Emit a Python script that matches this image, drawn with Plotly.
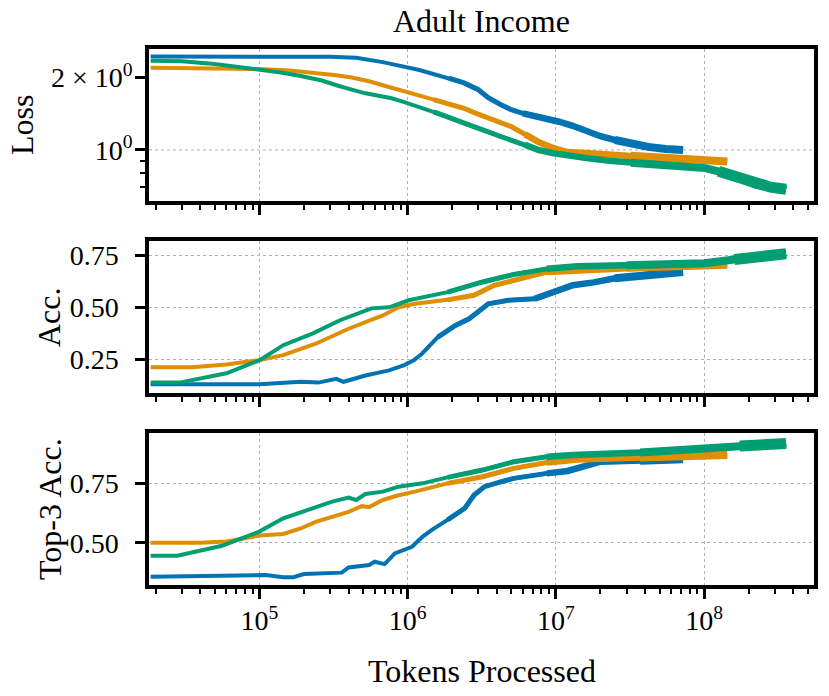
import plotly.graph_objects as go
from plotly.subplots import make_subplots

# colours of the three runs (seaborn "colorblind")
BLUE = "#0173b2"
ORANGE = "#de8f05"
GREEN = "#029e73"

# ---- Loss ----
blue_loss_x = [1.85e4, 1e5, 2e5, 3e5, 4.5e5, 5.5e5, 6.8e5, 8e5, 9.5e5, 1.2e6, 1.45e6, 1.9e6,
               2.4e6, 3e6, 3.5e6, 4.2e6, 5e6, 6e6, 7.2e6, 8.7e6, 1.05e7, 1.3e7, 1.6e7, 2e7,
               2.5e7, 3.2e7, 4.2e7, 5.5e7, 7.2e7]
blue_loss = [2.45, 2.45, 2.45, 2.44, 2.42, 2.38, 2.32, 2.27, 2.22, 2.15, 2.08, 1.99,
             1.90, 1.78, 1.65, 1.55, 1.47, 1.42, 1.39, 1.35, 1.31, 1.26, 1.20, 1.14,
             1.10, 1.06, 1.03, 1.01, 1.00]

orange_loss_x = [1.85e4, 5e4, 1e5, 1.6e5, 2.2e5, 3.2e5, 4.2e5, 5.5e5, 7e5, 9.5e5, 1.2e6, 1.5e6,
                 1.9e6, 2.4e6, 2.9e6, 3.5e6, 4.2e6, 5e6, 6.2e6, 7.6e6, 9.5e6, 1.2e7, 1.6e7,
                 2.2e7, 3.2e7, 4.8e7, 6.8e7, 1e8, 1.43e8]
orange_loss = [2.20, 2.19, 2.17, 2.14, 2.10, 2.05, 2.00, 1.93, 1.85, 1.76, 1.69, 1.62,
               1.55, 1.49, 1.42, 1.36, 1.30, 1.25, 1.16, 1.08, 1.02, 0.98, 0.97,
               0.955, 0.945, 0.93, 0.915, 0.905, 0.895]

green_loss_x = [1.85e4, 3e4, 5e4, 7e4, 1e5, 1.4e5, 1.9e5, 2.6e5, 3.4e5, 3.8e5, 4.5e5, 5.2e5,
                6.5e5, 7.8e5, 9.5e5, 1.2e6, 1.5e6, 1.9e6, 2.4e6, 2.9e6, 3.5e6, 4.2e6, 5e6,
                6.2e6, 7.6e6, 9.5e6, 1.2e7, 1.7e7, 2.4e7, 3.2e7, 4.8e7, 6.8e7, 1.02e8,
                1.25e8, 1.48e8, 1.85e8, 2.24e8, 2.8e8, 3.57e8]
green_loss = [2.35, 2.34, 2.28, 2.22, 2.17, 2.10, 2.03, 1.95, 1.85, 1.81, 1.76, 1.72,
              1.68, 1.64, 1.58, 1.51, 1.44, 1.37, 1.29, 1.24, 1.19, 1.14, 1.10,
              1.05, 1.00, 0.97, 0.948, 0.92, 0.90, 0.885, 0.87, 0.858, 0.84,
              0.815, 0.79, 0.75, 0.715, 0.70, 0.686]

# ---- Accuracy ----
blue_acc_x = [1.85e4, 1e5, 1.9e5, 2.5e5, 3.3e5, 3.7e5, 5.2e5, 7.5e5, 9.5e5, 1.1e6, 1.25e6,
              1.6e6, 2.1e6, 2.6e6, 3.2e6, 3.5e6, 4.8e6, 7.2e6, 9.8e6, 1.3e7, 1.8e7, 2.5e7,
              3.5e7, 4.5e7, 7.2e7]
blue_acc = [0.13, 0.13, 0.142, 0.138, 0.156, 0.142, 0.172, 0.197, 0.222, 0.245, 0.277,
            0.357, 0.413, 0.445, 0.493, 0.517, 0.534, 0.541, 0.573, 0.606, 0.62, 0.64,
            0.65, 0.66, 0.67]

orange_acc_x = [1.85e4, 3.5e4, 6e4, 1e5, 1.45e5, 2.4e5, 4e5, 6.8e5, 8.7e5, 1.12e6, 1.86e6,
                2.8e6, 3.85e6, 5.75e6, 8.7e6, 1.4e7, 3e7, 7e7, 1.43e8]
orange_acc = [0.212, 0.212, 0.225, 0.246, 0.27, 0.325, 0.397, 0.461, 0.50, 0.517, 0.536,
              0.558, 0.606, 0.638, 0.67, 0.678, 0.69, 0.70, 0.705]

green_acc_x = [1.85e4, 2.9e4, 6e4, 1e5, 1.45e5, 2.3e5, 3.5e5, 5.7e5, 7.5e5, 1.02e6, 1.86e6,
               3.2e6, 5.2e6, 8.7e6, 1.4e7, 3e7, 1e8, 1.6e8, 2.5e8, 3.57e8]
green_acc = [0.138, 0.138, 0.183, 0.245, 0.318, 0.375, 0.438, 0.495, 0.50, 0.534, 0.573,
             0.622, 0.658, 0.685, 0.697, 0.702, 0.712, 0.73, 0.75, 0.758]

# ---- Top-3 accuracy ----
blue_top3_x = [1.85e4, 1.1e5, 1.45e5, 1.7e5, 2e5, 3.6e5, 4e5, 5.5e5, 6e5, 7e5, 8.2e5, 9.5e5,
               1.07e6, 1.26e6, 1.45e6, 1.86e6, 2.43e6, 2.8e6, 3.3e6, 4.3e6, 5.2e6, 8.7e6,
               1.2e7, 2e7, 3.7e7, 7.2e7]
blue_top3 = [0.357, 0.364, 0.355, 0.355, 0.368, 0.374, 0.396, 0.406, 0.42, 0.41, 0.455, 0.469,
             0.483, 0.525, 0.553, 0.596, 0.645, 0.70, 0.736, 0.757, 0.771, 0.792,
             0.802, 0.841, 0.845, 0.851]

orange_top3_x = [1.85e4, 4e4, 6e4, 1e5, 1.45e5, 1.9e5, 2.4e5, 3.1e5, 4e5, 4.9e5, 5.5e5, 6.8e5,
                 8.7e5, 1.12e6, 1.86e6, 3.2e6, 5.2e6, 8.7e6, 1.4e7, 3.7e7, 1e8, 1.43e8]
orange_top3 = [0.50, 0.50, 0.505, 0.53, 0.537, 0.56, 0.588, 0.609, 0.63, 0.654, 0.65, 0.68,
               0.70, 0.715, 0.75, 0.778, 0.813, 0.838, 0.85, 0.859, 0.865, 0.869]

green_top3_x = [1.85e4, 2.8e4, 5.6e4, 1e5, 1.45e5, 2.4e5, 3.1e5, 4e5, 4.5e5, 5.2e5, 6.8e5,
                8.7e5, 1.26e6, 1.86e6, 3.2e6, 5.2e6, 8.7e6, 1.3e7, 3.7e7, 1e8, 1.74e8, 3.57e8]
green_top3 = [0.445, 0.445, 0.487, 0.547, 0.603, 0.649, 0.673, 0.69, 0.68, 0.705, 0.715,
              0.736, 0.75, 0.775, 0.806, 0.841, 0.862, 0.869, 0.88, 0.893, 0.907, 0.918]

x_tick_vals = [1e5, 1e6, 1e7, 1e8]
x_tick_text = ["10<sup>5</sup>", "10<sup>6</sup>", "10<sup>7</sup>", "10<sup>8</sup>"]

panels = [
    ("Loss", [(blue_loss_x, blue_loss, BLUE), (orange_loss_x, orange_loss, ORANGE),
              (green_loss_x, green_loss, GREEN)]),
    ("Acc.", [(blue_acc_x, blue_acc, BLUE), (orange_acc_x, orange_acc, ORANGE),
              (green_acc_x, green_acc, GREEN)]),
    ("Top-3 Acc.", [(blue_top3_x, blue_top3, BLUE), (orange_top3_x, orange_top3, ORANGE),
                    (green_top3_x, green_top3, GREEN)]),
]

FONT = "Liberation Serif"
GRID = "#b0b0b0"

fig = make_subplots(rows=3, cols=1, shared_xaxes=True, vertical_spacing=40 / 536)

for row, (name, series) in enumerate(panels, start=1):
    for xs, ys, color in series:
        fig.add_trace(go.Scatter(x=xs, y=ys, mode="lines", line=dict(color=color, width=4),
                                 showlegend=False, hoverinfo="skip"), row=row, col=1)
        # the later part of every run is noisy -> draw it as a gradually thicker band
        for start, width in [(1.5e6, 5), (6e6, 6.5), (2.5e7, 8), (1.2e8, 11)]:
            sel = [(x, y) for x, y in zip(xs, ys) if x >= start]
            if len(sel) > 1:
                fig.add_trace(go.Scatter(x=[p[0] for p in sel], y=[p[1] for p in sel], mode="lines",
                                         line=dict(color=color, width=width),
                                         showlegend=False, hoverinfo="skip"), row=row, col=1)

minor_x = [m * 10 ** e for e in range(4, 9) for m in range(2, 10)]

fig.update_xaxes(
    type="log", range=[4.256, 8.741],
    tickvals=x_tick_vals, ticktext=x_tick_text,
    ticks="outside", ticklen=10, tickwidth=3, tickcolor="black",
    showline=True, linewidth=3.5, linecolor="black", mirror=True,
    showgrid=True, gridcolor=GRID, griddash="dot", gridwidth=1, zeroline=False,
    minor=dict(tickvals=minor_x, ticks="outside", ticklen=5, tickwidth=2,
               tickcolor="black", showgrid=False),
    tickfont=dict(family=FONT, size=28, color="black"), ticklabelstandoff=-2,
)
fig.update_xaxes(showticklabels=False, row=1, col=1)
fig.update_xaxes(showticklabels=False, row=2, col=1)
fig.update_xaxes(showticklabels=True, row=3, col=1)

common_y = dict(
    ticks="outside", ticklen=10, tickwidth=3, tickcolor="black",
    showline=True, linewidth=3.5, linecolor="black", mirror=True,
    gridcolor=GRID, griddash="dot", gridwidth=1, zeroline=False,
    tickfont=dict(family=FONT, size=28, color="black"),
)
fig.update_yaxes(type="log", range=[-0.2125, 0.42], tickvals=[1, 2],
                 ticktext=["10<sup>0</sup>", "2 × 10<sup>0</sup>"], showgrid=False,
                 ticklabelstandoff=-3,
                 minor=dict(tickvals=[0.6, 0.7, 0.8, 0.9], ticks="outside", ticklen=5,
                            tickwidth=2, tickcolor="black", showgrid=False),
                 row=1, col=1, **common_y)
fig.update_yaxes(range=[0.088, 0.819], tickvals=[0.25, 0.5, 0.75], ticklabelstandoff=11,
                 ticktext=["0.25", "0.50", "0.75"], showgrid=True, row=2, col=1, **common_y)
fig.update_yaxes(range=[0.322, 0.962], tickvals=[0.5, 0.75], ticklabelstandoff=11,
                 ticktext=["0.50", "0.75"], showgrid=True, row=3, col=1, **common_y)

fig.add_hline(y=1, row=1, col=1, line=dict(color=GRID, width=1, dash="dot"), layer="below")

title_font = dict(family=FONT, size=32, color="black")
annotations = [
    dict(text="Adult Income", xref="paper", yref="paper", x=0.5, y=1, yshift=28,
         xanchor="center", yanchor="middle", showarrow=False, font=title_font),
    dict(text="Tokens Processed", xref="paper", yref="paper", x=0.5, y=0, yshift=-86,
         xanchor="center", yanchor="middle", showarrow=False, font=title_font),
]
for ref, label, shift in [("y domain", "Loss", -127), ("y2 domain", "Acc.", -100),
                          ("y3 domain", "Top-3 Acc.", -99)]:
    annotations.append(dict(text=label, xref="paper", yref=ref, x=0, y=0.5, xshift=shift,
                            xanchor="center", yanchor="middle", textangle=-90,
                            showarrow=False, font=title_font))

fig.update_layout(
    width=829, height=696,
    margin=dict(l=149, r=11, t=49, b=111),
    plot_bgcolor="white", paper_bgcolor="white",
    font=dict(family=FONT, color="black"),
    annotations=annotations,
    showlegend=False,
)

# the page body has a default 8px margin; drop it so the figure fills the window
fig.write_html("out.html", config={"displayModeBar": False},
               post_script="document.body.style.margin='0';")
